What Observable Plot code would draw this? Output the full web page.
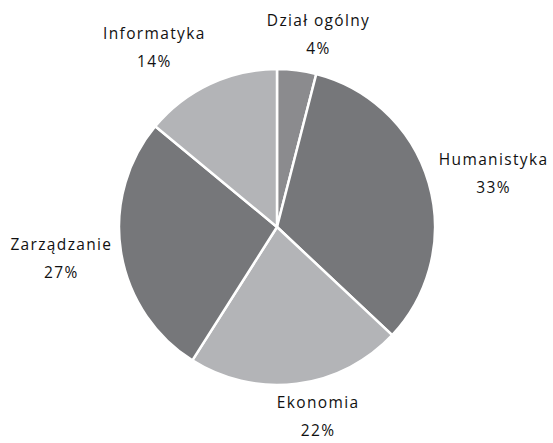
<!DOCTYPE html>
<html>
<head>
<meta charset="utf-8">
<script src="https://cdn.jsdelivr.net/npm/d3@7"></script>
<script src="https://cdn.jsdelivr.net/npm/@observablehq/plot@0.6"></script>
<style>
  html, body { margin: 0; padding: 0; background: #fff; }
</style>
</head>
<body>
<div id="chart"></div>
<script>
const categories = ["Dział ogólny", "Humanistyka", "Ekonomia", "Zarządzanie", "Informatyka"];
const shares = [4, 33, 22, 27, 14];
const colors = ["#8b8b8e", "#76777a", "#b3b4b7", "#76777a", "#b3b4b7"];

const data = categories.map((c, i) => ({ category: c, value: shares[i], color: colors[i] }));
const total = d3.sum(shares);
const arcs = d3.pie().sort(null).value(d => d.value)(data);

// Pie rendered through Plot's x/y scales (unit circle in data space)
function pieMark(index, scales) {
  const cx = scales.x(0), cy = scales.y(0);
  const r = scales.x(1) - scales.x(0);
  const arc = d3.arc().innerRadius(0).outerRadius(r);
  const g = d3.create("svg:g").attr("transform", `translate(${cx},${cy})`);
  g.selectAll("path").data(arcs).join("path")
    .attr("d", arc)
    .attr("fill", d => d.data.color)
    .attr("stroke", "#fff")
    .attr("stroke-width", 2.5)
    .attr("stroke-linejoin", "round");
  return g.node();
}

// Label layout (pixel nudges, kept apart from the data)
const nudges = [[13, -8], [6, -4], [15, -3], [0, -2], [-30, -12]];
const R = 158, gap = 8, lineH = 28;

const labels = arcs.map((a, i) => {
  const mid = (a.startAngle + a.endAngle) / 2;
  const s = Math.sin(mid), c = Math.cos(mid);
  const w = a.data.category.length * 9.6, h = 2 * lineH - 8;
  return {
    text: `${a.data.category}\n${Math.round(a.data.value / total * 100)}%`,
    x: (R + gap) / R * s,
    y: (R + gap) / R * c,
    dx: s * w / 2 + nudges[i][0],
    dy: -c * h / 2 + nudges[i][1]
  };
});

const textMarks = labels.map(l => Plot.text([l], {
  x: "x", y: "y", text: "text",
  textAnchor: "middle", lineAnchor: "middle", dx: l.dx, dy: l.dy,
  fontSize: 15.5, lineHeight: lineH / 15.5, fill: "#111",
  fontFamily: "'Open Sans', sans-serif"
}));

const chart = Plot.plot({
  width: 553,
  height: 443,
  margin: 0,
  x: { domain: [-1, 1], range: [277 - R, 277 + R], axis: null },
  y: { domain: [-1, 1], range: [227 + R, 227 - R], axis: null },
  style: { fontFamily: "'Open Sans', sans-serif", background: "#fff" },
  marks: [pieMark, ...textMarks]
});
d3.select(chart).selectAll("text").style("letter-spacing", "1.35px");
document.getElementById("chart").appendChild(chart);
</script>
</body>
</html>
